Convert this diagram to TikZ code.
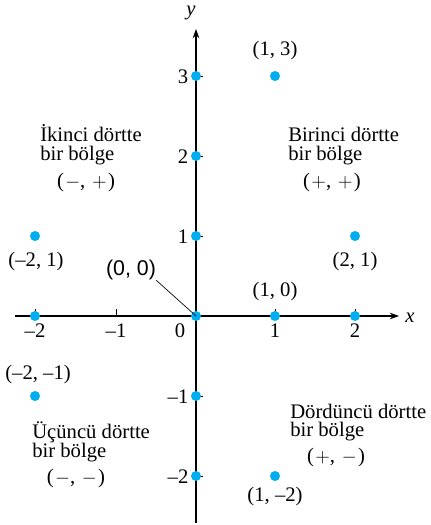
\documentclass[tikz,border=0pt]{standalone}
\usepackage{fontspec}
\setmainfont{Liberation Serif}
\newfontfamily\lsans{Liberation Sans}
\usetikzlibrary{arrows.meta}
\definecolor{dotblue}{HTML}{00AEEF}
\newcommand{\sgn}[2]{(\kern1pt$#1$,\kern5pt$#2$\kern1pt)}
\begin{document}
\begin{tikzpicture}[x=0.75pt,y=-0.75pt,
  every node/.style={inner sep=0pt, font=\fontsize{15.5}{18}\selectfont},
  pt/.style={circle, fill=dotblue, minimum size=7.5pt, inner sep=0pt},
  axis/.style={line width=0.8pt, -{Stealth[length=7pt,width=5pt]}},
  tick/.style={line width=0.6pt}]
\useasboundingbox (0,0) rectangle (431,525);
% axes
\coordinate (xs) at (15,316);
\coordinate (xe) at (399,316);
\coordinate (ys) at (196,523);
\coordinate (ye) at (196,29);
\draw[axis] (xs) -- (xe);
\draw[axis] (ys) -- (ye);
\node (xl) at (410,318) {\itshape x};
\node (yl) at (191,13) {\itshape y};
% ticks
\foreach \x in {35,116,275,355} \draw[tick] (\x,316) -- (\x,309);
\foreach \y in {76,156,236,396,476} \draw[tick] (196,\y) -- (203,\y);
% tick labels
\node (tm2) at (35,331) {–2};
\node (tm1) at (116,331) {–1};
\node (t0) at (180,331) {0};
\node (t1) at (275,331) {1};
\node (t2) at (355,331) {2};
\node (u3) at (183,77) {3};
\node (u2) at (183,157) {2};
\node (u1) at (183,237) {1};
\node (um1) at (178,397) {–1};
\node (um2) at (178,477) {–2};
% points
\node[pt] (p13) at (275,76) {};
\node[pt] (a3) at (196,76) {};
\node[pt] (a2) at (196,156) {};
\node[pt] (a1) at (196,236) {};
\node[pt] (o) at (196,316) {};
\node[pt] (am1) at (196,396) {};
\node[pt] (am2) at (196,476) {};
\node[pt] (bm2) at (35,316) {};
\node[pt] (b1) at (275,316) {};
\node[pt] (b2) at (355,316) {};
\node[pt] (pm21) at (35,236) {};
\node[pt] (p21) at (355,236) {};
\node[pt] (pm2m1) at (35,396) {};
\node[pt] (p1m2) at (275,476) {};
% point labels
\node (l13) at (275,51) {(1, 3)};
\node (lm21) at (36,262) {(–2, 1)};
\node (l21) at (355,262) {(2, 1)};
\node (l10) at (275,292) {(1, 0)};
\node (lm2m1) at (38,375) {(–2, –1)};
\node (l1m2) at (275,497) {(1, –2)};
\node[font=\lsans\fontsize{16}{18}\selectfont] (l00) at (131,270) {(0, 0)};
\draw[line width=0.5pt] (l00.south east) -- (o.center);
% quadrant texts
\node[anchor=west] (q2a) at (40,133) {İkinci dörtte};
\node[anchor=west] (q2b) at (40,156) {bir bölge};
\node (q2c) at (86,183) {\sgn{-}{+}};
\node[anchor=west] (q1a) at (288,134) {Birinci dörtte};
\node[anchor=west] (q1b) at (288,156) {bir bölge};
\node (q1c) at (332,183) {\sgn{+}{+}};
\node[anchor=west] (q3a) at (32,432) {Üçüncü dörtte};
\node[anchor=west] (q3b) at (32,453) {bir bölge};
\node (q3c) at (76,479) {\sgn{-}{-}};
\node[anchor=west] (q4a) at (290,411) {Dördüncü dörtte};
\node[anchor=west] (q4b) at (290,432) {bir bölge};
\node (q4c) at (336,458) {\sgn{+}{-}};
\end{tikzpicture}
\end{document}
